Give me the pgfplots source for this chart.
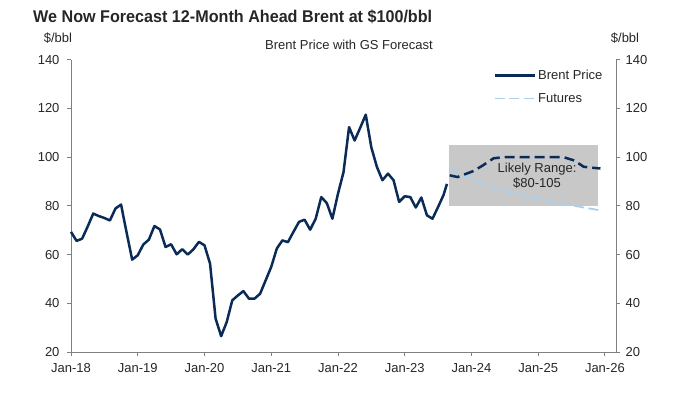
\documentclass[border=0pt]{standalone}
\usepackage{pgfplots}
\pgfplotsset{compat=1.18}
\usepackage{fontspec}
\setmainfont{Liberation Sans}
\newfontfamily\titlefont[FakeStretch=0.95]{Liberation Sans}
\definecolor{navy}{HTML}{0B2B57}
\definecolor{lblue}{HTML}{A9D0EE}
\definecolor{boxgray}{HTML}{C8C8C8}
\definecolor{axgray}{HTML}{808080}
\definecolor{txt}{HTML}{262626}
\begin{document}
\begin{tikzpicture}
\useasboundingbox (0pt,0pt) rectangle (700pt,394pt);
\node[anchor=base west, font=\titlefont\bfseries\fontsize{17}{20}\selectfont, text=txt, inner sep=0] at (33pt,371pt) {We Now Forecast 12-Month Ahead Brent at \$100/bbl};
\node[anchor=base east, font=\fontsize{13}{15}\selectfont, text=txt, inner sep=0] at (433pt,344pt) {Brent Price with GS Forecast};
\node[anchor=base, font=\fontsize{13}{15}\selectfont, text=txt, inner sep=0] at (58pt,351pt) {\$/bbl};
\node[anchor=base, font=\fontsize{13}{15}\selectfont, text=txt, inner sep=0] at (625pt,351pt) {\$/bbl};
\begin{axis}[
  at={(71pt,42pt)}, anchor=south west, scale only axis,
  width=545pt, height=292.4pt,
  xmin=0, xmax=98, ymin=20, ymax=140,
  axis x line*=bottom, axis y line*=left,
  axis line style={axgray, line width=0.8pt},
  tick style={axgray, line width=0.8pt},
  tick align=outside, major tick length=4pt,
  xtick={0,12,...,96},
  xticklabels={Jan-18,Jan-19,Jan-20,Jan-21,Jan-22,Jan-23,Jan-24,Jan-25,Jan-26},
  ytick={20,40,...,140},
  ticklabel style={font=\fontsize{13}{15}\selectfont, text=txt},
  /pgf/number format/assume math mode=true,
  xticklabel style={yshift=-4pt},
  yticklabel style={xshift=-4pt},
  legend style={draw=none, fill=none, at={(0.775,0.971)}, anchor=north west,
    font=\fontsize{13}{15}\selectfont, text=txt, row sep=8pt, inner sep=0pt},
  legend cell align=left,
  legend image code/.code={\draw[#1] (0pt,0pt) -- (40pt,0pt);},
  clip=false,
]
\addplot[fill=boxgray, draw=none, forget plot] coordinates {(68,80) (94.75,80) (94.75,105) (68,105)} -- cycle;
\addplot[navy, line width=2.5pt, line join=round] coordinates {
(0,69.3) (1,65.6) (2,66.5) (3,71.5) (4,76.8) (5,75.8) (6,75) (7,74) (8,78.9) (9,80.5)
(10,69) (11,57.9) (12,59.7) (13,64.1) (14,66.1) (15,71.7) (16,70.3) (17,63.1) (18,64.2) (19,60.1)
(20,62.2) (21,60) (22,62.1) (23,65.2) (24,63.8) (25,56.3) (26,33.7) (27,26.5) (28,32.3) (29,41.2)
(30,43.2) (31,45) (32,41.9) (33,41.9) (34,43.9) (35,49.4) (36,54.9) (37,62.4) (38,65.8) (39,65.1)
(40,69.3) (41,73.4) (42,74.3) (43,70.2) (44,74.7) (45,83.6) (46,81.1) (47,74.7) (48,84.9) (49,93.8)
(50,112.3) (51,106.8) (52,112) (53,117.4) (54,104) (55,96) (56,90.5) (57,93.2) (58,90.5) (59,81.6)
(60,83.9) (61,83.6) (62,79.3) (63,83.4) (64,76.1) (65,74.7) (66,79.5) (67,84.5) (67.6,89)
};
\addlegendentry{Brent Price}
\addplot[lblue, line width=1.8pt, dash pattern=on 10pt off 4.5pt] coordinates {
(68.1,95.3) (70,93) (72,91) (74.5,88.7) (76.6,87) (80,85) (83,83.4) (85.6,82.2) (90,80.2) (95.2,78.1)
};
\addlegendentry{Futures}
\addplot[navy, line width=2.5pt, dash pattern=on 10pt off 5pt, forget plot] coordinates {
(68.1,92.5) (69.5,91.8) (72.4,94.3) (74,96.5) (76,99.5) (78,100) (88.5,100) (90.5,98.6) (92.2,96) (95.2,95.3)
};
\node[align=center, font=\fontsize{13}{15}\selectfont, text=txt] at (axis cs:83.8,92.3) {Likely Range:\\\$80-105};
\end{axis}
\begin{axis}[
  at={(71pt,42pt)}, anchor=south west, scale only axis,
  width=545pt, height=292.4pt,
  xmin=0, xmax=98, ymin=20, ymax=140,
  hide x axis,
  axis y line*=right,
  axis line style={axgray, line width=0.8pt},
  tick style={axgray, line width=0.8pt},
  tick align=outside, major tick length=4pt,
  ytick={20,40,...,140},
  ticklabel style={font=\fontsize{13}{15}\selectfont, text=txt},
  /pgf/number format/assume math mode=true,
  yticklabel style={xshift=2pt},
]
\addplot[draw=none, forget plot] coordinates {(0,20) (98,140)};
\end{axis}
\end{tikzpicture}
\end{document}
